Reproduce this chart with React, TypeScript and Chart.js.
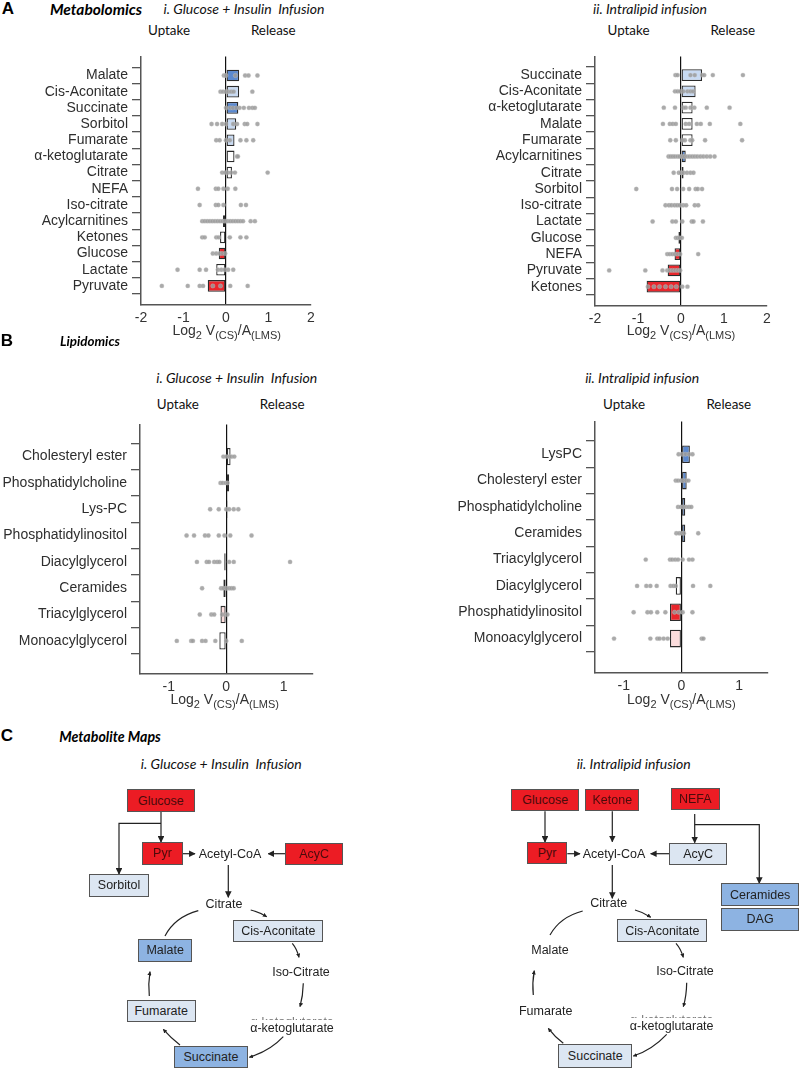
import React, { useEffect, useRef } from 'react';
import { Chart, registerables } from 'chart.js';
Chart.register(...registerables);

// ---------- DATA ----------
// significance codes: B = sig. release (dark blue), b = trend release (light blue),
// n = not significant (white), r = trend uptake (light red), R = sig. uptake (red)
const aLeftLabels = ['Malate', 'Cis-Aconitate', 'Succinate', 'Sorbitol', 'Fumarate', 'α-ketoglutarate', 'Citrate', 'NEFA', 'Iso-citrate', 'Acylcarnitines', 'Ketones', 'Glucose', 'Lactate', 'Pyruvate'];
const aLeftMeans = [0.31, 0.31, 0.29, 0.24, 0.2, 0.2, 0.14, 0, -0.02, -0.07, -0.14, -0.17, -0.23, -0.43];
const aLeftSig = ['B', 'b', 'B', 'b', 'b', 'n', 'n', 'n', 'n', 'R', 'n', 'R', 'n', 'R'];
const aLeftPoints = [
  [-0.05, 0.0, 0.22, 0.45, 0.53, 0.74],
  [-0.13, -0.07, 0, 0.05, 0.12, 0.18, 0.62],
  [0, 0.1, 0.16, 0.24, 0.32, 0.42, 0.54, 0.62, 0.68],
  [-0.34, -0.21, -0.09, 0, 0.17, 0.26, 0.44, 0.5, 0.74],
  [-0.23, -0.15, 0, 0.09, 0.34, 0.48, 0.64],
  [0.26, 0.28],
  [-0.09, -0.02, 0.04, 0.12, 0.21, 0.98],
  [-0.66, -0.24, -0.18, -0.06, 0.04, 0.22],
  [-0.62, -0.24, -0.18, -0.06, 0.35, 0.47],
  [-0.56, -0.5, -0.44, -0.38, -0.32, -0.26, -0.2, -0.14, -0.08, -0.02, 0.04, 0.1, 0.16, 0.22, 0.28, 0.34, 0.4, 0.58, 0.68],
  [-0.56, -0.5, -0.23, -0.17, 0.09, 0.34, 0.48],
  [-0.31, -0.23, -0.15, -0.09, -0.02],
  [-1.14, -0.62, -0.47, -0.19, -0.11, -0.03, 0.05, 0.17],
  [-1.51, -0.9, -0.62, -0.54, -0.31, -0.13, 0.1, 0.51],
];

const aRightLabels = ['Succinate', 'Cis-Aconitate', 'α-ketoglutarate', 'Malate', 'Fumarate', 'Acylcarnitines', 'Citrate', 'Sorbitol', 'Iso-citrate', 'Lactate', 'Glucose', 'NEFA', 'Pyruvate', 'Ketones'];
const aRightMeans = [0.49, 0.34, 0.27, 0.27, 0.27, 0.11, 0.06, 0, 0, 0, -0.06, -0.15, -0.31, -0.8];
const aRightSig = ['b', 'b', 'n', 'n', 'n', 'B', 'n', 'n', 'n', 'n', 'R', 'R', 'R', 'R'];
const aRightPoints = [
  [-0.13, -0.08, 0.22, 0.32, 0.49, 0.54, 0.74, 1.44],
  [-0.14, -0.08, -0.02, 0.05, 0.15, 0.22, 0.28],
  [-0.4, -0.14, 0.05, 0.11, 0.22, 0.31, 0.6, 1.13],
  [-0.42, -0.26, -0.19, -0.12, 0.11, 0.19, 0.37, 0.46, 0.67, 1.38],
  [-0.25, -0.12, 0.03, 0.09, 0.22, 0.26, 0.56, 1.42],
  [-0.29, -0.24, -0.19, -0.14, -0.08, -0.03, 0.03, 0.08, 0.14, 0.2, 0.26, 0.32, 0.38, 0.45, 0.52, 0.6, 0.68, 0.78],
  [-0.17, -0.05, 0, 0.06, 0.14, 0.22, 0.29],
  [-1.04, -0.21, -0.09, 0.05, 0.19, 0.34, 0.39, 0.49],
  [-0.36, -0.28, -0.22, -0.15, -0.09, -0.03, 0.05, 0.12, 0.32, 0.4],
  [-0.66, -0.2, -0.12, 0.03, 0.25, 0.29, 0.51],
  [-0.12, -0.08, -0.03, 0.02],
  [-0.32, -0.26, -0.2, -0.14, -0.08, -0.02, 0.4],
  [-1.67, -0.83, -0.43, -0.32, -0.26, -0.2, -0.14, -0.08, -0.02],
  [-0.77, -0.63, -0.5, -0.36, -0.23, -0.11, 0.03, 0.15],
];

const bLeftLabels = ['Cholesteryl ester', 'Phosphatidylcholine', 'Lys-PC', 'Phosphatidylinositol', 'Diacylglycerol', 'Ceramides', 'Triacylglycerol', 'Monoacylglycerol'];
const bLeftMeans = [0.075, 0.05, 0.02, 0, -0.035, -0.05, -0.1, -0.12];
const bLeftSig = ['n', 'n', 'n', 'n', 'n', 'n', 'r', 'n'];
const bLeftPoints = [
  [-0.05, 0, 0.05, 0.09, 0.14],
  [-0.1, -0.06, -0.01, 0.02],
  [-0.28, -0.13, 0, 0.05, 0.13, 0.21],
  [-0.69, -0.56, -0.37, -0.31, -0.13, -0.03, 0.07, 0.44],
  [-0.51, -0.34, -0.3, -0.21, -0.16, -0.12, 0.05, 0.13, 1.11],
  [-0.42, -0.09, -0.05, 0, 0.05, 0.09, 0.13],
  [-0.46, -0.26, -0.21, -0.07, 0.02],
  [-0.86, -0.61, -0.58, -0.42, -0.36, -0.19, 0, 0.27],
];

const bRightLabels = ['LysPC', 'Cholesteryl ester', 'Phosphatidylcholine', 'Ceramides', 'Triacylglycerol', 'Diacylglycerol', 'Phosphatidylinositol', 'Monoacylglycerol'];
const bRightMeans = [0.145, 0.09, 0.065, 0.065, -0.01, -0.1, -0.2, -0.2];
const bRightSig = ['B', 'B', 'B', 'B', 'n', 'n', 'R', 'r'];
const bRightPoints = [
  [-0.05, 0.01, 0.07, 0.13, 0.19],
  [-0.1, -0.06, -0.01, 0.03, 0.08, 0.12],
  [-0.06, -0.01, 0.03, 0.08, 0.13, 0.17],
  [-0.09, -0.04, 0, 0.04, 0.29],
  [-0.62, -0.2, -0.16, -0.11, -0.06, 0.02, 0.13, 0.19],
  [-0.77, -0.61, -0.54, -0.43, -0.19, -0.14, -0.1, 0.2, 0.5],
  [-0.83, -0.59, -0.53, -0.42, -0.28, -0.12, -0.05, 0.02, 0.19],
  [-1.17, -0.54, -0.42, -0.38, -0.31, -0.24, 0.35, 0.38],
];

const metabTicks = [-2, -1, 0, 1, 2];
const lipidTicks = [-1, 0, 1];

// ---------- STYLE ----------
const FILL: Record<string, string> = { B: '#5b89cf', b: '#c8daf2', n: '#ffffff', r: '#fbdcdc', R: '#e8262c' };
const ARIAL = '"Liberation Sans", Arial, Helvetica, sans-serif';
const HEAD = 'Lato, "Open Sans", sans-serif';

type PanelProps = {
  left: number; top: number; width: number; height: number;
  yAxisWidth: number; padTop: number; padRight: number;
  labels: string[]; means: number[]; sig: string[]; points: number[][];
  xMin: number; xMax: number; xTicks: number[];
  yMin: number; yMax: number; barPct: number;
};

function BarPanel(p: PanelProps) {
  const ref = useRef<HTMLCanvasElement>(null);
  useEffect(() => {
    const scatter: { x: number; y: number }[] = [];
    p.points.forEach((arr, i) => arr.forEach((v) => scatter.push({ x: v, y: i })));
    const chart = new Chart(ref.current as HTMLCanvasElement, {
      type: 'bar',
      data: {
        datasets: [
          {
            type: 'scatter',
            data: scatter,
            backgroundColor: 'rgba(155,155,155,0.85)',
            borderColor: 'rgba(200,200,200,0.6)',
            borderWidth: 0.5,
            pointRadius: 2.2,
            order: 0,
            clip: false,
          } as any,
          {
            type: 'bar',
            data: p.means.map((v, i) => ({ x: v, y: i })),
            backgroundColor: p.sig.map((s) => FILL[s]),
            borderColor: '#2b2b2b',
            borderWidth: 1.3,
            borderSkipped: false,
            categoryPercentage: 1,
            barPercentage: p.barPct,
            order: 1,
          } as any,
        ],
      },
      options: {
        indexAxis: 'y',
        animation: false,
        responsive: false,
        maintainAspectRatio: false,
        events: [],
        layout: { padding: { top: p.padTop, right: p.padRight, left: 0, bottom: 0 } },
        plugins: { legend: { display: false }, tooltip: { enabled: false } },
        scales: {
          x: {
            type: 'linear',
            min: p.xMin,
            max: p.xMax,
            afterBuildTicks: (axis: any) => { axis.ticks = p.xTicks.map((v) => ({ value: v })); },
            ticks: { font: { family: ARIAL, size: 14 }, color: '#333', padding: 5, maxRotation: 0 },
            grid: {
              drawTicks: false,
              lineWidth: 1.2,
              color: (ctx: any) => (ctx.tick && ctx.tick.value === 0 ? '#111' : 'rgba(0,0,0,0)'),
            },
            border: { display: true, color: '#555', width: 1.5 },
            afterFit: (s: any) => { s.height = 20; },
          },
          y: {
            type: 'linear',
            reverse: true,
            min: p.yMin,
            max: p.yMax,
            afterBuildTicks: (axis: any) => { axis.ticks = p.labels.map((_, i) => ({ value: i })); },
            ticks: {
              autoSkip: false,
              font: { family: ARIAL, size: 14 },
              color: '#2e2e2e',
              padding: 4,
              callback: (v: any) => p.labels[v],
            },
            grid: { drawOnChartArea: false, drawTicks: true, tickLength: 9, color: '#555', lineWidth: 1.3 },
            border: { display: true, color: '#555', width: 1.5 },
            afterFit: (s: any) => { s.width = p.yAxisWidth; },
          },
        },
      } as any,
    });
    return () => chart.destroy();
  }, []);
  return (
    <canvas
      ref={ref}
      width={p.width}
      height={p.height}
      style={{ position: 'absolute', left: p.left, top: p.top, width: p.width, height: p.height }}
    />
  );
}

function T(props: { x: number; y: number; style?: React.CSSProperties; children: React.ReactNode }) {
  return (
    <div
      style={{
        position: 'absolute',
        left: props.x,
        top: props.y,
        transform: 'translate(-50%, -50%)',
        whiteSpace: 'pre',
        lineHeight: 1,
        ...props.style,
      }}
    >
      {props.children}
    </div>
  );
}

const headStyle: React.CSSProperties = { fontFamily: HEAD, fontStyle: 'italic', fontSize: 14, color: '#111' };
const ulStyle: React.CSSProperties = { fontFamily: HEAD, fontSize: 13.4, color: '#111' };
const sectStyle: React.CSSProperties = { fontFamily: ARIAL, fontWeight: 'bold', fontSize: 17, color: '#000' };
const sectTitle: React.CSSProperties = { fontFamily: HEAD, fontWeight: 'bold', fontStyle: 'italic', color: '#000' };
const diaText: React.CSSProperties = { fontFamily: ARIAL, fontSize: 12.5, color: '#222' };

function AxisTitle({ x, y }: { x: number; y: number }) {
  const sub: React.CSSProperties = { fontSize: 11, position: 'relative', top: 4 };
  return (
    <T x={x} y={y} style={{ fontFamily: ARIAL, fontSize: 14, color: '#333' }}>
      Log<span style={sub}>2</span> V<span style={sub}>(CS)</span>/A<span style={sub}>(LMS)</span>
    </T>
  );
}

const RED = '#ec1c24';
const MID = '#8db3e2';
const LIGHT = '#dce6f2';

function Box(props: { x1: number; y1: number; x2: number; y2: number; fill: string; children: React.ReactNode }) {
  const dark = props.fill === RED;
  return (
    <div
      style={{
        position: 'absolute',
        left: props.x1,
        top: props.y1,
        width: props.x2 - props.x1,
        height: props.y2 - props.y1,
        boxSizing: 'border-box',
        background: props.fill,
        border: '1.5px solid #555',
        display: 'flex',
        alignItems: 'center',
        justifyContent: 'center',
        fontFamily: ARIAL,
        fontSize: 12.5,
        color: dark ? '#4a0b0b' : '#222',
        whiteSpace: 'nowrap',
      }}
    >
      {props.children}
    </div>
  );
}

// faint, clipped duplicate line of text seen just above the α-ketoglutarate label
function Ghost({ x, y }: { x: number; y: number }) {
  return (
    <div style={{ position: 'absolute', left: x - 45, top: y, width: 90, height: 3.5, overflow: 'hidden' }}>
      <div style={{ position: 'absolute', left: 0, width: 90, top: 0, textAlign: 'center', fontFamily: ARIAL, fontSize: 12.5, lineHeight: '12.5px', color: '#777', whiteSpace: 'nowrap' }}>
        α-ketoglutarate
      </div>
    </div>
  );
}

function Arrows() {
  const s = { stroke: '#222', strokeWidth: 1.2, fill: 'none' };
  return (
    <svg width={800} height={1072} style={{ position: 'absolute', left: 0, top: 0 }}>
      <defs>
        <marker id="ah" viewBox="0 0 10 10" refX="9" refY="5" markerWidth="5.5" markerHeight="5.5" orient="auto">
          <path d="M0,0 L10,5 L0,10 z" fill="#222" />
        </marker>
        <marker id="ahs" viewBox="0 0 10 10" refX="9" refY="5" markerWidth="3.5" markerHeight="3.5" orient="auto">
          <path d="M0,0 L10,5 L0,10 z" fill="#222" />
        </marker>
      </defs>
      {/* left map */}
      <path d="M161,812 L161,842" {...s} markerEnd="url(#ah)" />
      <path d="M161,823.3 L119,823.3 L119,874" {...s} markerEnd="url(#ah)" />
      <path d="M182.7,853.7 L195,853.7" {...s} markerEnd="url(#ah)" />
      <path d="M285,853.7 L268.3,853.7" {...s} markerEnd="url(#ah)" />
      <path d="M228.3,865 L228.3,897.3" {...s} markerEnd="url(#ah)" />
      <path d="M165,936 Q175,917 198.3,910.7" {...s} />
      <path d="M250.7,910 Q259,912 266.7,916.7" {...s} markerEnd="url(#ahs)" />
      <path d="M292.3,943.3 Q297,949 299,957.3" {...s} markerEnd="url(#ahs)" />
      <path d="M303.3,983.3 Q303,996 300,1006.7" {...s} markerEnd="url(#ahs)" />
      <path d="M283.3,1036.7 Q270,1051 249.3,1057.3" {...s} markerEnd="url(#ahs)" />
      <path d="M180,1045 Q171,1038 163.3,1029.3" {...s} markerEnd="url(#ahs)" />
      <path d="M149.3,996 Q148,984 150,971.7" {...s} markerEnd="url(#ahs)" />
      {/* right map */}
      <path d="M545,811.3 L545,842" {...s} markerEnd="url(#ah)" />
      <path d="M612.3,811.3 L612.3,841.7" {...s} markerEnd="url(#ah)" />
      <path d="M694.7,814 L694.7,842.7" {...s} markerEnd="url(#ah)" />
      <path d="M694.7,824.7 L759.3,824.7 L759.3,883.3" {...s} markerEnd="url(#ah)" />
      <path d="M567.3,853.7 L580,853.7" {...s} markerEnd="url(#ah)" />
      <path d="M669,853.7 L650.7,853.7" {...s} markerEnd="url(#ah)" />
      <path d="M612.3,865 L612.3,898.3" {...s} markerEnd="url(#ah)" />
      <path d="M550,935 Q560,917 582.7,911" {...s} />
      <path d="M635,910 Q643,912 650.7,917.3" {...s} markerEnd="url(#ahs)" />
      <path d="M676,943.3 Q681,949 683.3,957.3" {...s} markerEnd="url(#ahs)" />
      <path d="M686.7,982.7 Q686.5,996 683.3,1006.7" {...s} markerEnd="url(#ahs)" />
      <path d="M666.7,1034.3 Q652,1050 633.3,1056" {...s} markerEnd="url(#ahs)" />
      <path d="M563.3,1043.3 Q555,1037 548.3,1028.3" {...s} markerEnd="url(#ahs)" />
      <path d="M533.3,995 Q532,983 534.3,970.7" {...s} markerEnd="url(#ahs)" />
    </svg>
  );
}

export default function App() {
  return (
    <div style={{ position: 'absolute', left: 0, top: 0, width: 800, height: 1072, background: '#fff', overflow: 'hidden' }}>
      {/* Panel A */}
      <T x={8} y={8} style={sectStyle}>A</T>
      <T x={96} y={9.5} style={{ ...sectTitle, fontSize: 15.5 }}>Metabolomics</T>
      <T x={244} y={8.5} style={headStyle}>{'i. Glucose + Insulin  Infusion'}</T>
      <T x={169} y={30.7} style={ulStyle}>Uptake</T>
      <T x={273.3} y={30.7} style={ulStyle}>Release</T>
      <T x={650} y={8.5} style={headStyle}>ii. Intralipid infusion</T>
      <T x={628.5} y={30.7} style={ulStyle}>Uptake</T>
      <T x={732.8} y={30.7} style={ulStyle}>Release</T>

      <BarPanel left={0} top={44} width={325} height={281} yAxisWidth={141} padTop={8} padRight={14}
        labels={aLeftLabels} means={aLeftMeans} sig={aLeftSig} points={aLeftPoints}
        xMin={-2} xMax={2} xTicks={metabTicks} yMin={-0.63} yMax={13.63} barPct={0.72} />
      <BarPanel left={400} top={44} width={380} height={282} yAxisWidth={195} padTop={9} padRight={13}
        labels={aRightLabels} means={aRightMeans} sig={aRightSig} points={aRightPoints}
        xMin={-2} xMax={2} xTicks={metabTicks} yMin={-0.6} yMax={13.64} barPct={0.72} />
      <AxisTitle x={226.7} y={330} />
      <AxisTitle x={681} y={330} />

      {/* Panel B */}
      <T x={7} y={339.5} style={sectStyle}>B</T>
      <T x={90} y={341.7} style={{ ...sectTitle, fontSize: 13.4 }}>Lipidomics</T>
      <T x={236.7} y={378.3} style={headStyle}>{'i. Glucose + Insulin  Infusion'}</T>
      <T x={177.8} y={405} style={ulStyle}>Uptake</T>
      <T x={282.2} y={405} style={ulStyle}>Release</T>
      <T x={642.2} y={378.3} style={headStyle}>ii. Intralipid infusion</T>
      <T x={624} y={405} style={ulStyle}>Uptake</T>
      <T x={728.8} y={405} style={ulStyle}>Release</T>

      <BarPanel left={0} top={412} width={326} height={282} yAxisWidth={140} padTop={8.7} padRight={13.5}
        labels={bLeftLabels} means={bLeftMeans} sig={bLeftSig} points={bLeftPoints}
        xMin={-1.5} xMax={1.5} xTicks={lipidTicks} yMin={-0.63} yMax={7.665} barPct={0.66} />
      <BarPanel left={400} top={409} width={381} height={284} yAxisWidth={195} padTop={8.3} padRight={13}
        labels={bRightLabels} means={bRightMeans} sig={bRightSig} points={bRightPoints}
        xMin={-1.5} xMax={1.5} xTicks={lipidTicks} yMin={-0.65} yMax={7.71} barPct={0.67} />
      <AxisTitle x={224.7} y={699} />
      <AxisTitle x={681.3} y={699} />

      {/* Panel C */}
      <T x={7} y={735} style={sectStyle}>C</T>
      <T x={110} y={736.7} style={{ ...sectTitle, fontSize: 14.2 }}>Metabolite Maps</T>
      <T x={221.3} y={764} style={headStyle}>{'i. Glucose + Insulin  Infusion'}</T>
      <T x={633.7} y={764} style={headStyle}>ii. Intralipid infusion</T>

      <Arrows />

      {/* left map */}
      <Box x1={126.7} y1={789} x2={195} y2={812} fill={RED}>Glucose</Box>
      <Box x1={142.3} y1={842} x2={182.7} y2={864.7} fill={RED}>Pyr</Box>
      <Box x1={285} y1={843.3} x2={343.3} y2={865.3} fill={RED}>AcyC</Box>
      <Box x1={89} y1={874} x2={149} y2={896.7} fill={LIGHT}>Sorbitol</Box>
      <Box x1={233.3} y1={920} x2={323.3} y2={942.3} fill={LIGHT}>Cis-Aconitate</Box>
      <Box x1={138} y1={939.3} x2={192.3} y2={961.7} fill={MID}>Malate</Box>
      <Box x1={126.7} y1={1000} x2={195.7} y2={1022.3} fill={LIGHT}>Fumarate</Box>
      <Box x1={174.3} y1={1045.7} x2={247.7} y2={1067.7} fill={MID}>Succinate</Box>
      <T x={230} y={853.7} style={diaText}>Acetyl-CoA</T>
      <T x={224} y={904.3} style={diaText}>Citrate</T>
      <T x={301} y={972.3} style={diaText}>Iso-Citrate</T>
      <Ghost x={292} y={1016.3} />
      <T x={292} y={1027.7} style={diaText}>α-ketoglutarate</T>

      {/* right map */}
      <Box x1={511.3} y1={789.3} x2={579.3} y2={811.3} fill={RED}>Glucose</Box>
      <Box x1={585.3} y1={788.7} x2={639.3} y2={811.3} fill={RED}>Ketone</Box>
      <Box x1={670.7} y1={787.7} x2={720} y2={810.3} fill={RED}>NEFA</Box>
      <Box x1={527} y1={842} x2={567.3} y2={864.3} fill={RED}>Pyr</Box>
      <Box x1={669} y1={842.7} x2={727.3} y2={865} fill={LIGHT}>AcyC</Box>
      <Box x1={721} y1={883.3} x2={799.3} y2={906} fill={MID}>Ceramides</Box>
      <Box x1={721} y1={908} x2={799.3} y2={930.7} fill={MID}>DAG</Box>
      <Box x1={617.3} y1={919.3} x2={707.3} y2={942.3} fill={LIGHT}>Cis-Aconitate</Box>
      <Box x1={558.3} y1={1044.3} x2={632.3} y2={1067.7} fill={LIGHT}>Succinate</Box>
      <T x={614} y={853.7} style={diaText}>Acetyl-CoA</T>
      <T x={608.7} y={903.3} style={diaText}>Citrate</T>
      <T x={550} y={950} style={diaText}>Malate</T>
      <T x={685} y={971} style={diaText}>Iso-Citrate</T>
      <T x={545.7} y={1010.7} style={diaText}>Fumarate</T>
      <Ghost x={671.7} y={1014.3} />
      <T x={671.7} y={1025.7} style={diaText}>α-ketoglutarate</T>
    </div>
  );
}
